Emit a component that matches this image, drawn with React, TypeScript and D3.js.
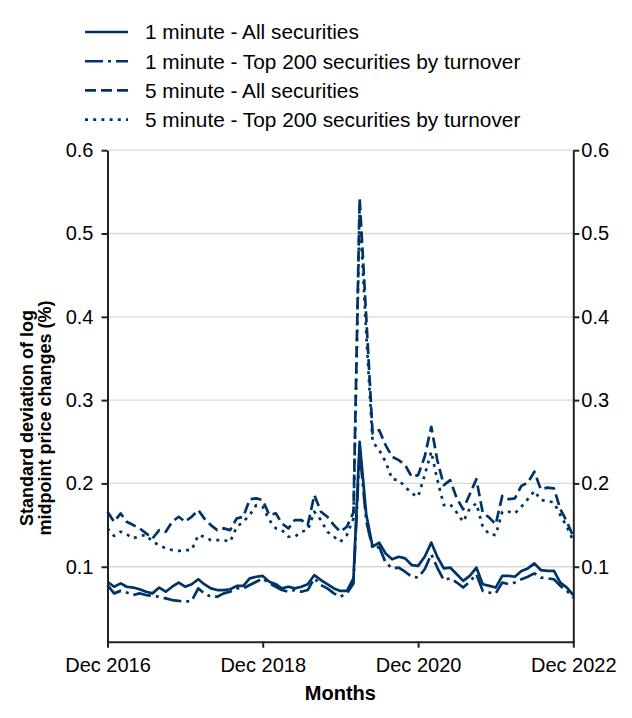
import React, { useEffect, useRef } from "react";
import * as d3 from "d3";

// monthly observations, Dec 2016 .. Dec 2022
const startMonth = new Date(2016, 11, 1);
const endMonth = new Date(2022, 11, 1);
const months = d3.timeMonth.range(startMonth, d3.timeMonth.offset(endMonth, 1));

const oneMinAll = [
  0.082, 0.076, 0.08, 0.076, 0.075, 0.073, 0.07, 0.068, 0.075, 0.07, 0.076, 0.081,
  0.076, 0.079, 0.085, 0.079, 0.074, 0.072, 0.072, 0.073, 0.077, 0.077, 0.086, 0.088,
  0.089, 0.082, 0.079, 0.074, 0.076, 0.074, 0.076, 0.079, 0.09, 0.084, 0.079, 0.074,
  0.071, 0.071, 0.086, 0.25, 0.163, 0.124, 0.129, 0.116, 0.109, 0.112, 0.11, 0.102,
  0.101, 0.112, 0.129, 0.112, 0.098, 0.099, 0.091, 0.083, 0.089, 0.099, 0.079, 0.077,
  0.075, 0.089, 0.089, 0.088, 0.095, 0.098, 0.104, 0.096, 0.095, 0.095, 0.081, 0.075,
  0.066,
];

const oneMinTop = [
  0.078, 0.068, 0.071, 0.069, 0.066, 0.068, 0.066, 0.065, 0.064, 0.062, 0.06, 0.059,
  0.058, 0.059, 0.074, 0.068, 0.064, 0.064, 0.068, 0.07, 0.074, 0.074, 0.078, 0.082,
  0.086, 0.08, 0.076, 0.072, 0.07, 0.072, 0.07, 0.072, 0.086, 0.078, 0.074, 0.068,
  0.064, 0.068, 0.08, 0.24, 0.155, 0.122, 0.124, 0.105, 0.098, 0.099, 0.094, 0.088,
  0.087, 0.097, 0.115, 0.099, 0.084, 0.086, 0.081, 0.075, 0.082, 0.091, 0.071, 0.069,
  0.068, 0.081, 0.079, 0.081, 0.085, 0.088, 0.092, 0.087, 0.086, 0.085, 0.077, 0.071,
  0.063,
];

const fiveMinAll = [
  0.166, 0.154, 0.164, 0.154, 0.15, 0.146, 0.14, 0.134, 0.144, 0.142, 0.154, 0.16,
  0.154, 0.16, 0.168, 0.158, 0.15, 0.144, 0.146, 0.144, 0.158, 0.16, 0.181, 0.182,
  0.18, 0.162, 0.164, 0.152, 0.146, 0.156, 0.156, 0.15, 0.186, 0.166, 0.16, 0.15,
  0.142, 0.148, 0.165, 0.542, 0.4, 0.26, 0.264, 0.246, 0.232, 0.228, 0.222, 0.208,
  0.21, 0.232, 0.268, 0.228, 0.198, 0.204, 0.182, 0.169, 0.187, 0.205, 0.165, 0.159,
  0.151, 0.185, 0.181, 0.182, 0.197, 0.201, 0.214, 0.193, 0.195, 0.194, 0.169, 0.154,
  0.136,
];

const fiveMinTop = [
  0.146, 0.137, 0.142, 0.139, 0.134, 0.137, 0.138, 0.13, 0.126, 0.122, 0.12, 0.119,
  0.12, 0.12, 0.138, 0.136, 0.132, 0.132, 0.132, 0.13, 0.148, 0.154, 0.162, 0.174,
  0.172, 0.156, 0.146, 0.144, 0.136, 0.136, 0.142, 0.144, 0.166, 0.156, 0.142, 0.136,
  0.13, 0.138, 0.158, 0.53, 0.38, 0.25, 0.24, 0.226, 0.205, 0.204, 0.196, 0.188,
  0.184, 0.21, 0.238, 0.205, 0.174, 0.175, 0.165, 0.154, 0.17, 0.176, 0.148, 0.139,
  0.138, 0.166, 0.166, 0.164, 0.172, 0.181, 0.191, 0.18, 0.179, 0.177, 0.162, 0.148,
  0.131,
];

const seriesNames = [
  "1 minute - All securities",
  "1 minute - Top 200 securities by turnover",
  "5 minute - All securities",
  "5 minute - Top 200 securities by turnover",
];

const yTicks = [0.1, 0.2, 0.3, 0.4, 0.5, 0.6];
const xTicks = [
  new Date(2016, 11, 1),
  new Date(2018, 11, 1),
  new Date(2020, 11, 1),
  new Date(2022, 11, 1),
];

const COLOR = "#003467";
const FONT = "'Liberation Sans', Arial, sans-serif";

const series = [
  { name: seriesNames[0], values: oneMinAll, dash: "none" },
  { name: seriesNames[1], values: oneMinTop, dash: "18 5 3 5" },
  { name: seriesNames[2], values: fiveMinAll, dash: "11 5" },
  { name: seriesNames[3], values: fiveMinTop, dash: "3 5.2" },
];

const App = () => {
  const width = 632;
  const height = 718;
  const plot = { left: 107.5, right: 573.3, top: 150.2, bottom: 641.7 };

  const x = d3.scaleTime().domain([startMonth, endMonth]).range([plot.left, plot.right]);
  const y = d3.scaleLinear().domain([0.01, 0.6]).range([plot.bottom, plot.top]);

  const line = d3
    .line<number>()
    .x((_, i) => x(months[i]))
    .y((d) => y(d));

  const axis = {
    left: useRef<SVGGElement>(null),
    right: useRef<SVGGElement>(null),
    bottom: useRef<SVGGElement>(null),
  };

  useEffect(() => {
    const style = (g) => {
      g.select(".domain").attr("stroke", "#222").attr("stroke-width", 2);
      g.selectAll(".tick line").attr("stroke", "#222").attr("stroke-width", 2);
      g.selectAll(".tick text")
        .attr("fill", "#000")
        .style("font-size", "20px")
        .style("font-family", FONT);
    };

    d3.select(axis.left.current)
      .call(
        d3.axisLeft(y).tickValues(yTicks).tickSize(6).tickSizeOuter(0).tickPadding(8).tickFormat(d3.format(".1f"))
      )
      .call(style);

    d3.select(axis.right.current)
      .call(
        d3.axisRight(y).tickValues(yTicks).tickSize(6).tickSizeOuter(0).tickPadding(2).tickFormat(d3.format(".1f"))
      )
      .call(style);

    d3.select(axis.bottom.current)
      .call(
        d3
          .axisBottom(x)
          .tickValues(xTicks)
          .tickSize(6)
          .tickSizeOuter(0)
          .tickPadding(10)
          .tickFormat(d3.timeFormat("%b %Y"))
      )
      .call(style);
  }, []);

  return (
    <div style={{ position: "absolute", left: 0, top: 0 }}>
      <svg width={width} height={height} style={{ display: "block", background: "#fff" }}>
        {/* legend */}
        <g>
          {series.map((s, i) => {
            const ly = 32 + i * 29.2;
            return (
              <g key={s.name}>
                <line
                  x1={85}
                  x2={128}
                  y1={ly}
                  y2={ly}
                  stroke={COLOR}
                  strokeWidth={2.6}
                  strokeDasharray={s.dash}
                />
                <text x={145} y={ly} dy="0.36em" fontSize={20.8} fontFamily={FONT} fill="#000">
                  {s.name}
                </text>
              </g>
            );
          })}
        </g>

        {/* gridlines */}
        <g>
          {yTicks.map((t) => (
            <line
              key={t}
              x1={plot.left}
              x2={plot.right}
              y1={y(t)}
              y2={y(t)}
              stroke="#d9d9d9"
              strokeWidth={1.3}
            />
          ))}
        </g>

        {/* series */}
        <g>
          {series.map((s) => (
            <path
              key={s.name}
              d={line(s.values)}
              fill="none"
              stroke={COLOR}
              strokeWidth={2.7}
              strokeDasharray={s.dash}
              strokeLinejoin="round"
            />
          ))}
        </g>

        <g ref={axis.left} transform={`translate(${plot.left},0)`} />
        <g ref={axis.right} transform={`translate(${plot.right},0)`} />
        <g ref={axis.bottom} transform={`translate(0,${plot.bottom})`} />

        {/* axis titles */}
        <text
          transform={`translate(33,418) rotate(-90)`}
          textAnchor="middle"
          fontSize={18}
          fontWeight="bold"
          fontFamily={FONT}
        >
          Standard deviation of log
        </text>
        <text
          transform={`translate(51,418) rotate(-90)`}
          textAnchor="middle"
          fontSize={18}
          fontWeight="bold"
          fontFamily={FONT}
        >
          midpoint price changes (%)
        </text>
        <text
          x={(plot.left + plot.right) / 2}
          y={700}
          textAnchor="middle"
          fontSize={20}
          fontWeight="bold"
          fontFamily={FONT}
        >
          Months
        </text>
      </svg>
    </div>
  );
};

export default App;
